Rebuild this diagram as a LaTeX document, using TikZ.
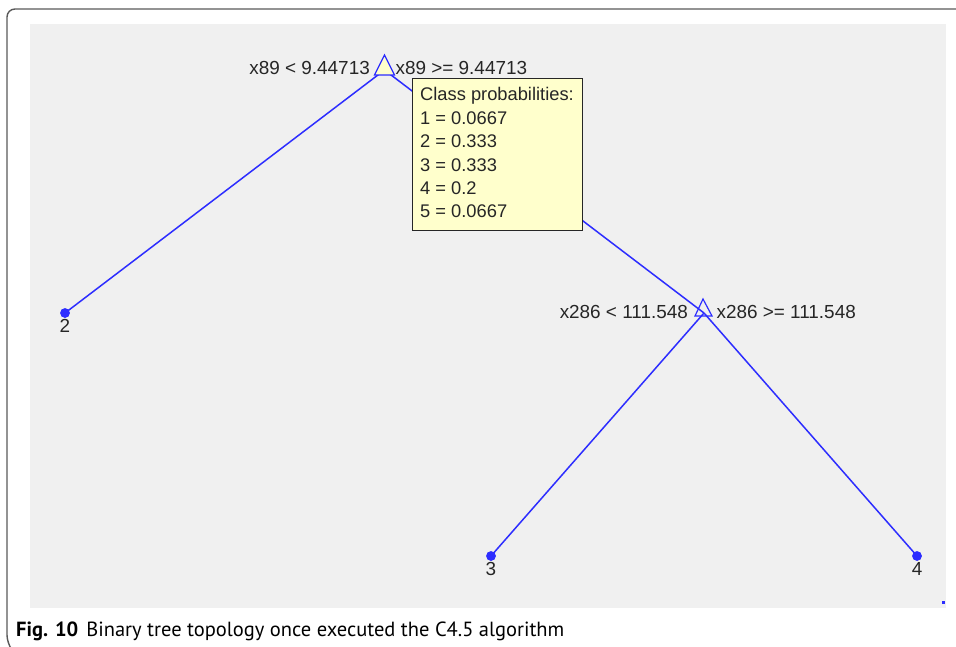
\documentclass[tikz,border=0pt]{standalone}
\usepackage{fontspec}
\setmainfont{Liberation Sans}
\newfontfamily\capfont{PT Sans}
\definecolor{treeblue}{RGB}{45,45,255}
\definecolor{panelgrey}{RGB}{240,240,240}
\definecolor{inkgrey}{RGB}{38,38,38}
\definecolor{tipfill}{RGB}{255,255,204}
\definecolor{framegrey}{RGB}{90,90,90}
\tikzset{
  edge/.style={draw=treeblue, line width=1.5pt},
  leafdot/.style={circle, fill=treeblue, inner sep=0pt, minimum size=9.5pt},
  splitmark/.style={draw=treeblue, line width=1.2pt, line join=miter},
  plottext/.style={text=inkgrey, inner sep=0pt, font=\fontsize{18.9}{22}\selectfont},
  tiptext/.style={text=inkgrey, inner sep=0pt, font=\fontsize{18.3}{22}\selectfont},
  tipbox/.style={draw=inkgrey, line width=1pt, fill=tipfill, inner sep=0pt},
}
\begin{document}
\begin{tikzpicture}[x=1pt, y=-1pt]
\useasboundingbox (0,0) rectangle (956,647);
\fill[white] (0,0) rectangle (956,647);
% figure frame
\draw[framegrey, line width=1.4pt, rounded corners=8pt] (960,9) -- (7,9) -- (7,643) -- (12,650);
% axes background
\fill[panelgrey] (30,24) rectangle (946,608);

% tree nodes
\coordinate (root) at (384.5,70);
\coordinate (inner) at (704,313);
\node[leafdot] (leaf2) at (65,313) {};
\node[leafdot] (leaf3) at (491,556) {};
\node[leafdot] (leaf4) at (917,556) {};

% branches
\draw[edge] (root) -- (leaf2.center);
\draw[edge] (root) -- (inner);
\draw[edge] (inner) -- (leaf3.center);
\draw[edge] (inner) -- (leaf4.center);
\node[leafdot] at (leaf2) {};
\node[leafdot] at (leaf3) {};
\node[leafdot] at (leaf4) {};

% split markers
\draw[splitmark, fill=tipfill] ([shift={(0,-15)}]root) -- ([shift={(10,5)}]root) -- ([shift={(-10,5)}]root) -- cycle;
\draw[splitmark] ([shift={(-1,-14)}]inner) -- ([shift={(8,3)}]inner) -- ([shift={(-9,3)}]inner) -- cycle;

% split rules
\node[plottext, anchor=base east] (rootL) at (370,75) {x89 < 9.44713};
\node[plottext, anchor=base west] (rootR) at (395.5,75) {x89 >= 9.44713};
\node[plottext, anchor=base east] (innerL) at (688,318.5) {x286 < 111.548};
\node[plottext, anchor=base west] (innerR) at (716.5,318.5) {x286 >= 111.548};

% leaf labels
\node[plottext, anchor=base] (lab2) at (65,332) {2};
\node[plottext, anchor=base] (lab3) at (491,575) {3};
\node[plottext, anchor=base] (lab4) at (917,575) {4};

% corner tick
\fill[treeblue] (942,601) rectangle (945,604);

% data tip
\node[tipbox, anchor=north west, minimum width=170pt, minimum height=152pt] (tip) at (412,78) {};
\node[tiptext, anchor=base west] (tiplines) at (420,101) {\vtop{\baselineskip=23.4pt
  \hbox{Class probabilities:}
  \hbox{1 = 0.0667}
  \hbox{2 = 0.333}
  \hbox{3 = 0.333}
  \hbox{4 = 0.2}
  \hbox{5 = 0.0667}}};

% caption
\node[anchor=base west, inner sep=0pt, font=\capfont\fontsize{20.5}{24}\selectfont, text=black] (caption) at (16,636)
  {\textbf{Fig. 10}\hspace{8pt}Binary tree topology once executed the C4.5 algorithm};
\end{tikzpicture}
\end{document}
